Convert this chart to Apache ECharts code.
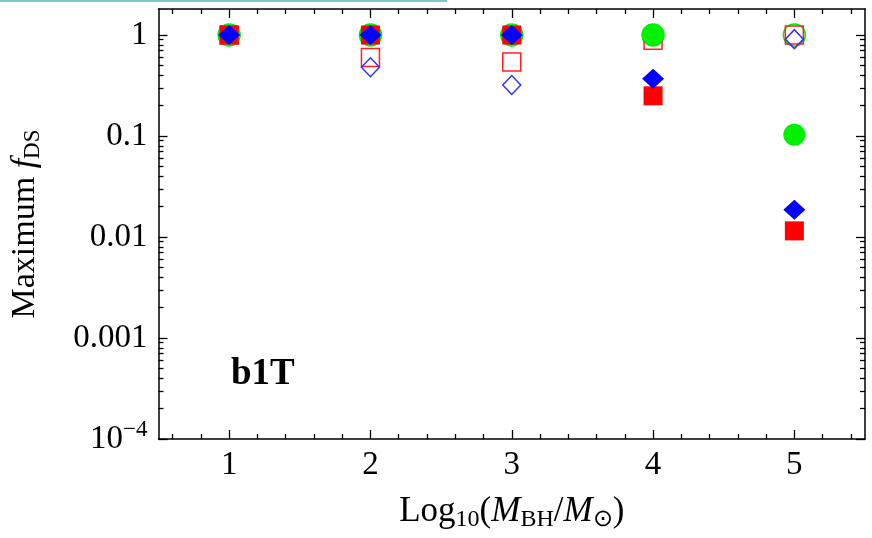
<!DOCTYPE html>
<html>
<head>
<meta charset="utf-8">
<script src="https://cdn.jsdelivr.net/npm/echarts@6/dist/echarts.min.js"></script>
<style>
  html, body { margin: 0; padding: 0; background: #fff; }
  #chart { width: 872px; height: 538px; }
</style>
</head>
<body>
<div id="chart"></div>
<script>
// x positions : log10(M_BH / M_sun)
const masses = [1, 2, 3, 4, 5];

// maximum f_DS, filled symbols
const redFilled   = [1, 1, 1, 0.25, 0.0115];
const blueFilled  = [1, 1, 1, 0.37, 0.0186];
const greenFilled = [1, 1, 1, 1, 0.103];

// maximum f_DS, open symbols
const redOpen   = [1, 0.60, 0.54, 0.89, 1];
const blueOpen  = [1, 0.48, 0.32, 1, 0.91];
const greenOpen = [1, 1, 1, 1, 1];

// ticks
const xMajor = [1, 2, 3, 4, 5];
const xMinor = [0.6, 0.8, 1.2, 1.4, 1.6, 1.8, 2.2, 2.4, 2.6, 2.8, 3.2, 3.4, 3.6, 3.8,
                4.2, 4.4, 4.6, 4.8, 5.2, 5.4];
const yMajor = [1e-4, 1e-3, 1e-2, 1e-1, 1];
const yLabels = ['{b|10}{sup|\u22124}', '0.001', '0.01', '0.1', '1'];
const yMinor = [];
[1e-4, 1e-3, 1e-2, 1e-1].forEach(d => {
    for (let k = 2; k <= 9; k++) yMinor.push(+(d * k).toPrecision(3));
});

const FONT = 'Liberation Serif';
const pts = ys => masses.map((x, i) => [x, ys[i]]);

const chart = echarts.init(document.getElementById('chart'));

function xAx(pos, ticks, len, labels, line) {
    return {
        type: 'value', position: pos, min: 0.5, max: 5.5,
        axisLine: { show: line, onZero: false, lineStyle: { color: '#000', width: 1.5 } },
        axisTick: { show: true, inside: true, length: len, customValues: ticks,
                    lineStyle: { color: '#000', width: 1.3 } },
        axisLabel: { show: labels, customValues: ticks, margin: 10,
                     fontFamily: FONT, fontSize: 33, color: '#000' },
        splitLine: { show: false }
    };
}

function yAx(pos, ticks, len, labels, line) {
    return {
        type: 'log', position: pos, min: 1e-4, max: 1.81,
        axisLine: { show: line, onZero: false, lineStyle: { color: '#000', width: 1.5 } },
        axisTick: { show: true, inside: true, length: len, customValues: ticks,
                    lineStyle: { color: '#000', width: 1.3 } },
        axisLabel: {
            show: labels, customValues: ticks, margin: 11,
            fontFamily: FONT, fontSize: 33, color: '#000',
            formatter: v => yLabels[yMajor.findIndex(t => Math.abs(t - v) < v * 1e-6)],
            rich: {
                b: { fontFamily: FONT, fontSize: 33, color: '#000' },
                sup: { fontFamily: FONT, fontSize: 23, color: '#000', padding: [0, 0, 18, 0] }
            }
        },
        splitLine: { show: false }
    };
}

const bottomX = xAx('bottom', xMajor, 9, true, true);
bottomX.name = '{n|Log}{s|10}{n|(}{i|M}{s|BH}{n|/}{i|M}{s|\u2299}{n|)}';
bottomX.nameLocation = 'middle';
bottomX.nameGap = 53;
bottomX.nameTextStyle = {
    rich: {
        n: { fontFamily: FONT, fontSize: 35, color: '#000' },
        i: { fontFamily: FONT, fontSize: 35, fontStyle: 'italic', color: '#000' },
        s: { fontFamily: FONT, fontSize: 24, color: '#000', padding: [16, 0, 0, 0] }
    }
};

const leftY = yAx('left', yMajor, 9, true, true);
leftY.name = '{n|Maximum }{i|f}{s|DS}';
leftY.nameLocation = 'middle';
leftY.nameGap = 114;
leftY.nameTextStyle = {
    rich: {
        n: { fontFamily: FONT, fontSize: 34, color: '#000' },
        i: { fontFamily: FONT, fontSize: 34, fontStyle: 'italic', color: '#000' },
        s: { fontFamily: FONT, fontSize: 23, color: '#000', padding: [16, 0, 0, 0] }
    }
};

function scatter(name, ys, symbol, size, color, open) {
    return {
        type: 'scatter', name: name, data: pts(ys), symbol: symbol, symbolSize: size,
        xAxisIndex: 0, yAxisIndex: 0,
        itemStyle: open
            ? { color: 'rgba(255,255,255,0)', borderColor: color, borderWidth: 1.5, opacity: 1 }
            : { color: color, opacity: 1 },
        emphasis: { disabled: true }
    };
}

chart.setOption({
    backgroundColor: '#fff',
    animation: false,
    grid: { left: 158, right: 7, top: 9, bottom: 99 },
    xAxis: [
        bottomX,
        xAx('bottom', xMinor, 5, false, false),
        xAx('top', xMajor, 9, false, true),
        xAx('top', xMinor, 5, false, false)
    ],
    yAxis: [
        leftY,
        yAx('left', yMinor, 5, false, false),
        yAx('right', yMajor, 9, false, true),
        yAx('right', yMinor, 5, false, false)
    ],
    series: [
        scatter('green open', greenOpen, 'circle', 22, '#00f000', true),
        scatter('red open', redOpen, 'rect', 18, '#ff2020', true),
        scatter('blue open', blueOpen, 'diamond', [18, 19], '#3030ff', true),
        scatter('green filled', greenFilled, 'circle', 22, '#00f000', false),
        scatter('red filled', redFilled, 'rect', 19, '#ff0000', false),
        scatter('blue filled', blueFilled, 'diamond', [22, 20], '#0000ff', false)
    ],
    graphic: [
        {
            type: 'line', shape: { x1: 0, y1: 1, x2: 447, y2: 1 },
            style: { stroke: '#80c8c8', lineWidth: 2 }
        },
        {
            type: 'text', x: 231, y: 374,
            style: {
                text: 'b1T', fontFamily: FONT, fontSize: 37, fontWeight: 'bold',
                fill: '#000', verticalAlign: 'middle'
            }
        }
    ]
});
</script>
</body>
</html>
